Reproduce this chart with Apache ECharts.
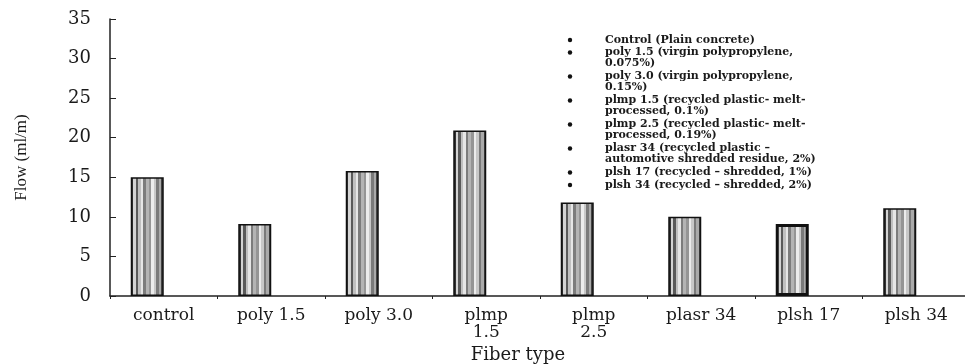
<!DOCTYPE html>
<html><head><meta charset="utf-8">
<script src="https://cdn.jsdelivr.net/npm/echarts@6/dist/echarts.min.js"></script>
<style>html,body{margin:0;padding:0;background:#fff}#c{width:965px;height:364px}</style>
</head><body><div id="c"></div>
<script>
var categories = ['control', 'poly 1.5', 'poly 3.0', 'plmp\n1.5', 'plmp\n2.5', 'plasr 34', 'plsh 17', 'plsh 34'];
var flowValues = [15.0, 9.1, 15.8, 20.9, 11.8, 10.0, 9.1, 11.1];
var yTicks = [0, 5, 10, 15, 20, 25, 30, 35];
var legendLines = [
  ['Control (Plain concrete)'],
  ['poly 1.5 (virgin polypropylene,', '0.075%)'],
  ['poly 3.0 (virgin polypropylene,', '0.15%)'],
  ['plmp 1.5 (recycled plastic- melt-', 'processed, 0.1%)'],
  ['plmp 2.5 (recycled plastic- melt-', 'processed, 0.19%)'],
  ['plasr 34 (recycled plastic \u2013', 'automotive shredded residue, 2%)'],
  ['plsh 17 (recycled \u2013 shredded, 1%)'],
  ['plsh 34 (recycled \u2013 shredded, 2%)']
];

var stripes = ['#333','#d4d4d4','#5a5a5a','#c0c0c0','#e6e6e6','#7c7c7c','#b4b4b4','#959595','#ececec','#c8c8c8','#7a7a7a','#aaaaaa','#444'];
function stripeGrad() {
  var stops = [];
  var n = stripes.length;
  for (var i = 0; i < n; i++) {
    stops.push({offset: i / n, color: stripes[i]});
    stops.push({offset: (i + 1) / n, color: stripes[i]});
  }
  return new echarts.graphic.LinearGradient(0, 0, 1, 0, stops);
}

var chart = echarts.init(document.getElementById('c'));
var serif = 'DejaVu Serif';
var barData = flowValues.map(function (v, i) {
  return {value: v, itemStyle: {color: stripeGrad(), borderColor: '#111', borderWidth: i === 6 ? 3 : 1.5}};
});

var graphics = [];
var y = 40;
legendLines.forEach(function (item) {
  graphics.push({type: 'circle', shape: {cx: 570, cy: y, r: 2.2}, style: {fill: '#111'}});
  item.forEach(function (line, k) {
    graphics.push({type: 'text', x: 605, y: y + k * 10.8,
      style: {text: line, font: 'bold 11px "DejaVu Serif"', fill: '#1a1a1a', verticalAlign: 'middle', align: 'left'}});
  });
  y += item.length === 1 ? 12.5 : 24;
});

chart.setOption({
  animation: false,
  grid: {left: 110, right: -5, top: 19, bottom: 68, containLabel: false, outerBoundsMode: 'none'},
  xAxis: {
    type: 'category', data: categories,
    name: 'Fiber type', nameLocation: 'middle', nameGap: 38,
    nameTextStyle: {fontFamily: serif, fontSize: 18, color: '#1a1a1a', padding: [0, 44, 0, 0]},
    axisLine: {lineStyle: {color: '#222', width: 1.5}},
    axisTick: {show: true, length: 3, lineStyle: {color: '#222'}},
    axisLabel: {fontFamily: serif, fontSize: 17, color: '#1a1a1a', margin: 11, lineHeight: 17}
  },
  yAxis: {
    type: 'value', min: 0, max: 35, interval: 5,
    name: 'Flow (ml/m)', nameLocation: 'middle', nameGap: 80,
    nameTextStyle: {fontFamily: 'Liberation Serif', fontSize: 17, color: '#1a1a1a'},
    axisLine: {show: true, lineStyle: {color: '#222', width: 1.5}},
    axisTick: {show: true, inside: true, length: 6, lineStyle: {color: '#222'}},
    splitLine: {show: false},
    axisLabel: {fontFamily: serif, fontSize: 18, color: '#1a1a1a', margin: 19,
      formatter: function (v) { return yTicks.indexOf(v) >= 0 ? String(v) : ''; }}
  },
  series: [
    {type: 'bar', data: barData, barWidth: 33, barGap: '0%'},
    {type: 'bar', data: flowValues.map(function () { return '-'; }), barWidth: 33, silent: true}
  ],
  graphic: graphics
});
</script></body></html>
